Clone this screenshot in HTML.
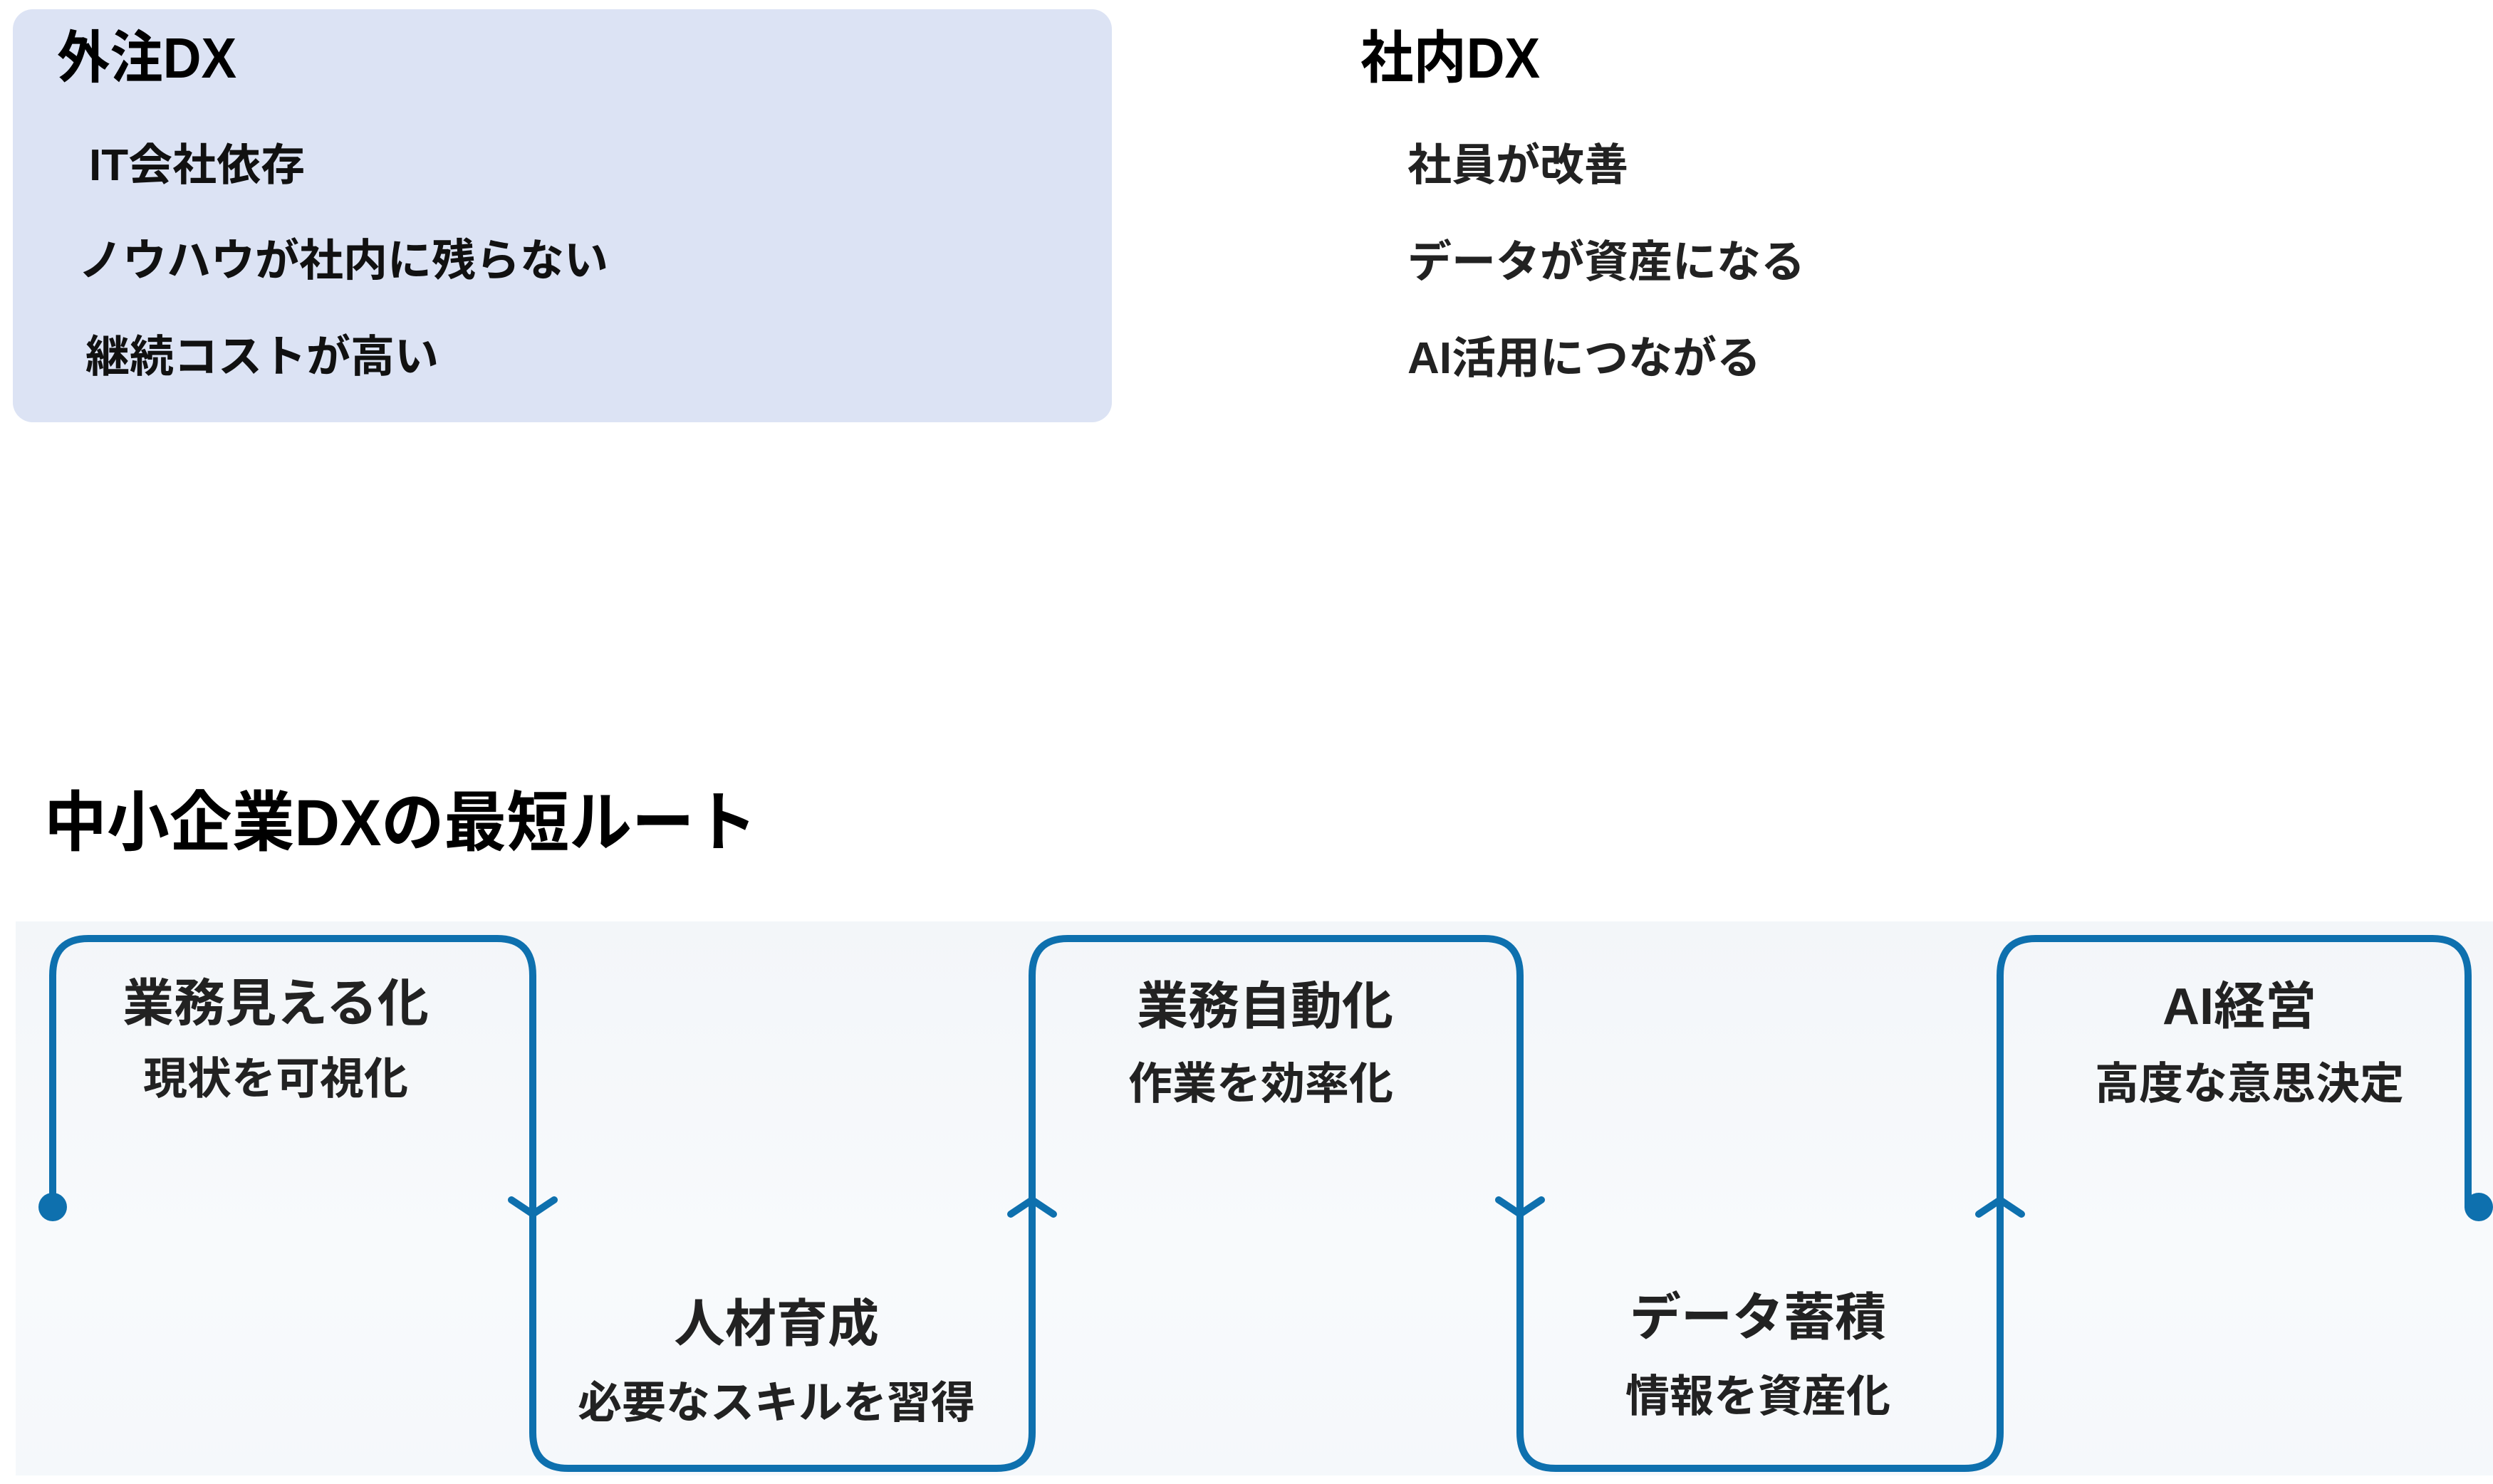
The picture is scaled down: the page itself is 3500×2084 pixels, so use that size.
<!DOCTYPE html>
<html><head><meta charset="utf-8"><style>
html,body{margin:0;padding:0;background:#fff;}
body{width:3500px;height:2084px;position:relative;overflow:hidden;font-family:"Liberation Sans","Noto Sans CJK JP",sans-serif;font-weight:bold;color:#111;}
.t{position:absolute;white-space:nowrap;line-height:1;}
.c{transform:translateX(-50%);text-align:center;}
</style></head><body>
<div style="position:absolute;left:18px;top:13px;width:1543px;height:580px;background:#dce3f4;border-radius:28px;"></div>
<div class="t" style="left:80px;top:42px;font-size:80px;color:#000;transform:scaleX(0.93);transform-origin:left;">外注DX</div>
<div class="t" style="left:125px;top:202px;font-size:62px;">IT会社依存</div>
<div class="t" style="left:110px;top:336px;font-size:62px;">ノウハウが社内に残らない</div>
<div class="t" style="left:120px;top:471px;font-size:62px;">継続コストが高い</div>

<div class="t" style="left:1910px;top:42px;font-size:80px;color:#000;transform:scaleX(0.93);transform-origin:left;">社内DX</div>
<div class="t" style="left:1976px;top:202px;font-size:62px;color:#222;">社員が改善</div>
<div class="t" style="left:1976px;top:338px;font-size:62px;color:#222;">データが資産になる</div>
<div class="t" style="left:1976px;top:473px;font-size:62px;color:#222;">AI活用につながる</div>

<div class="t" style="left:62px;top:1110px;font-size:92px;color:#000;transform:scaleX(0.955);transform-origin:left;">中小企業DXの最短ルート</div>

<div style="position:absolute;left:22px;top:1294px;width:3478px;height:778px;background:linear-gradient(#f3f6f9,#f8fafc 60%,#f5f8fb);"></div>
<svg style="position:absolute;left:0;top:0" width="3500" height="2084">
<g fill="none" stroke="#0e70ae" stroke-width="10" stroke-linejoin="round" stroke-linecap="round">
<path d="M74 1695 V1370 Q74 1318 124 1318 H698 Q748 1318 748 1370 V2012 Q748 2062 798 2062 H1399 Q1449 2062 1449 2012 V1370 Q1449 1318 1499 1318 H2084 Q2134 1318 2134 1370 V2012 Q2134 2062 2184 2062 H2758 Q2808 2062 2808 2012 V1370 Q2808 1318 2858 1318 H3415 Q3465 1318 3465 1370 V1695"/>
<path d="M718 1685 L748 1705 L778 1685"/>
<path d="M1419 1705 L1449 1685 L1479 1705"/>
<path d="M2104 1685 L2134 1705 L2164 1685"/>
<path d="M2778 1705 L2808 1685 L2838 1705"/>
</g>
<circle cx="74" cy="1695" r="20" fill="#0e70ae"/>
<circle cx="3480" cy="1695" r="20" fill="#0e70ae"/>
</svg>

<div class="t c" style="left:387px;top:1374px;font-size:72px;color:#222;">業務見える化</div>
<div class="t c" style="left:387px;top:1485px;font-size:62px;color:#222;">現状を可視化</div>
<div class="t c" style="left:1090px;top:1824px;font-size:72px;color:#222;">人材育成</div>
<div class="t c" style="left:1090px;top:1940px;font-size:62px;color:#222;">必要なスキルを習得</div>
<div class="t c" style="left:1776px;top:1378px;font-size:72px;color:#222;">業務自動化</div>
<div class="t c" style="left:1770px;top:1492px;font-size:62px;color:#222;">作業を効率化</div>
<div class="t c" style="left:2468px;top:1815px;font-size:72px;color:#222;">データ蓄積</div>
<div class="t c" style="left:2468px;top:1931px;font-size:62px;color:#222;">情報を資産化</div>
<div class="t c" style="left:3144px;top:1378px;font-size:72px;color:#222;">AI経営</div>
<div class="t c" style="left:3158px;top:1492px;font-size:62px;color:#222;">高度な意思決定</div>
</body></html>
